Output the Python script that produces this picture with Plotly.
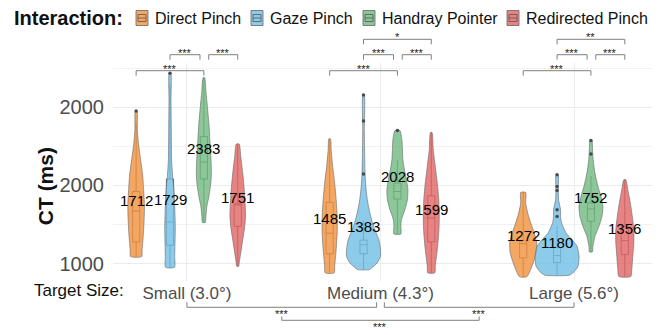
import plotly.graph_objects as go

# ---------------- data ----------------
INTERACTIONS = ["Direct Pinch", "Gaze Pinch", "Handray Pointer", "Redirected Pinch"]
SIZES = ["Small (3.0°)", "Medium (4.3°)", "Large (5.6°)"]
Y_TICKS = [1000, 2000, 3000]
Y_TICK_TEXT = ["1000", "2000", "2000"]
Y_MINOR = [1500, 2500, 3500]

# mean CT per size (Small, Medium, Large)
direct_means = [1712, 1485, 1272]
gaze_means = [1729, 1383, 1180]
handray_means = [2383, 2028, 1752]
redirected_means = [1751, 1599, 1356]

# box statistics per size
direct_box = dict(q1=[1277, 1125, 1073], median=[1673, 1389, 1255], q3=[1923, 1783, 1290],
                  lowerfence=[1089, 881, 830], upperfence=[2800, 2596, 1911])
gaze_box = dict(q1=[1234, 1125, 1013], median=[1532, 1240, 1102], q3=[2082, 1300, 1204],
                lowerfence=[953, 923, 851], upperfence=[3300, 1550, 1480])
handray_box = dict(q1=[2082, 1826, 1540], median=[2299, 1923, 1699], q3=[2626, 2031, 1775],
                   lowerfence=[1527, 1379, 1149], upperfence=[3379, 2330, 2120])
redirected_box = dict(q1=[1476, 1277, 1115], median=[1750, 1584, 1294], q3=[1766, 1868, 1472],
                      lowerfence=[966, 881, 834], upperfence=[2529, 2677, 2073])

# outliers: size index and CT
direct_out_size = [0]
direct_out_ct = [2954]
gaze_out_size = [0, 1, 1, 1, 2, 2, 2, 2, 2]
gaze_out_ct = [3435, 2145, 2826, 3158, 1604, 1690, 1936, 1987, 2137]
handray_out_size = [1, 2, 2]
handray_out_ct = [2702, 2401, 2575]
redirected_out_size = []
redirected_out_ct = []

# violin density profiles (CT levels, relative density) per size
direct_violin_ct = [
    [2954, 2711, 2520, 2328, 2137, 1945, 1753, 1562, 1370, 1179, 1089],
    [2596, 2456, 2243, 2031, 1817, 1604, 1392, 1179, 966, 881],
    [1911, 1775, 1647, 1520, 1392, 1264, 1137, 1009, 881, 830],
]
direct_violin_density = [
    [0.8, 1.2, 2.5, 4.5, 6.5, 7.5, 8.3, 8.0, 7.2, 6.0, 5.5],
    [0.8, 1.5, 3, 5, 6.5, 7.5, 7.5, 6.5, 5, 4.5],
    [2.5, 2.5, 4.5, 7.5, 11, 13.5, 13, 10, 6, 3.5],
]
gaze_violin_ct = [
    [3435, 3094, 2711, 2328, 2111, 1907, 1690, 1472, 1268, 1089, 953],
    [3158, 2711, 2158, 1987, 1817, 1647, 1476, 1306, 1179, 1093, 1009, 945, 923],
    [2137, 1936, 1817, 1690, 1604, 1520, 1392, 1306, 1221, 1093, 966, 881, 851],
]
gaze_violin_density = [
    [0.8, 1.0, 1.3, 1.6, 2.7, 4.2, 4.8, 5.3, 5.0, 4.7, 4.5],
    [0.7, 0.8, 1.5, 2.3, 3.8, 6.3, 10, 15.3, 17, 17, 13.7, 8.3, 6],
    [1, 1.2, 1.5, 3.5, 3.5, 4.5, 9, 15, 20, 22, 21, 16, 12],
]
handray_violin_ct = [
    [3379, 3222, 3009, 2801, 2583, 2370, 2158, 2034, 1859, 1732, 1604, 1527],
    [2702, 2583, 2456, 2328, 2200, 2073, 1945, 1817, 1690, 1562, 1476, 1379],
    [2575, 2498, 2328, 2158, 1987, 1859, 1732, 1604, 1476, 1349, 1221, 1149],
]
handray_violin_density = [
    [0.8, 2, 3.5, 5, 6, 7, 7.5, 7, 5, 3, 2, 1.5],
    [2.5, 4.5, 5, 5.5, 7, 9, 10.5, 10, 7.5, 4, 3.5, 3.5],
    [1, 1.5, 2.2, 4, 7, 10, 12, 11, 8, 4, 2, 1.5],
]
redirected_violin_ct = [
    [2529, 2370, 2158, 1945, 1732, 1604, 1476, 1306, 1137, 1009, 966],
    [2677, 2456, 2243, 2031, 1817, 1604, 1392, 1179, 966, 881],
    [2073, 1945, 1775, 1604, 1434, 1264, 1093, 923, 834],
]
redirected_violin_density = [
    [1.5, 3, 5, 6.5, 7.5, 7.8, 7, 5, 3, 1.5, 1],
    [0.8, 2, 4, 6, 7.5, 8, 7.5, 6, 4, 3.5],
    [1, 3, 5.5, 7.5, 9, 9, 8, 7, 6],
]

# pairwise significance within each size: (size, from, to, level, label)
PAIR_TESTS = [
    (0, 0, 2, 0, "***"), (0, 1, 2, 1, "***"), (0, 2, 3, 1, "***"),
    (1, 0, 2, 0, "***"), (1, 1, 2, 1, "***"), (1, 2, 3, 1, "***"), (1, 1, 3, 2, "*"),
    (2, 0, 2, 0, "***"), (2, 1, 2, 1, "***"), (2, 2, 3, 1, "***"), (2, 1, 3, 2, "**"),
]
# significance between sizes: (from, to, level, label)
SIZE_TESTS = [(0, 1, 0, "***"), (1, 2, 0, "***"), (0, 2, 1, "***")]

# ---------------- style ----------------
FILLS = ["rgba(240,145,60,0.8)", "rgba(112,190,229,0.8)",
         "rgba(111,185,129,0.8)", "rgba(226,100,100,0.8)"]
OUTLINE = "#666666"
BOXLINE = "#555555"
FONT = "Liberation Sans, Arial, sans-serif"
DODGE = [-0.2625, -0.0875, 0.0875, 0.2625]
DENS_TO_X = 1 / 193.5
W, H = 661, 335
ML, MR, MT, MB = 113, 9, 63, 54
PW, PH = W - ML - MR, H - MT - MB


def paper_x(px):
    return (px - ML) / PW


def paper_y(py):
    return (H - MB - py) / PH


means = [direct_means, gaze_means, handray_means, redirected_means]
boxes = [direct_box, gaze_box, handray_box, redirected_box]
out_sizes = [direct_out_size, gaze_out_size, handray_out_size, redirected_out_size]
out_cts = [direct_out_ct, gaze_out_ct, handray_out_ct, redirected_out_ct]
v_cts = [direct_violin_ct, gaze_violin_ct, handray_violin_ct, redirected_violin_ct]
v_dens = [direct_violin_density, gaze_violin_density, handray_violin_density, redirected_violin_density]

fig = go.Figure()

for i, name in enumerate(INTERACTIONS):
    for s in range(len(SIZES)):
        c = s + DODGE[i]
        ys = v_cts[i][s]
        ds = v_dens[i][s]
        xr = [c + d * DENS_TO_X for d in ds]
        xl = [c - d * DENS_TO_X for d in ds]
        fig.add_trace(go.Scatter(
            x=xr + xl[::-1] + [xr[0]], y=ys + ys[::-1] + [ys[0]],
            mode="lines", fill="toself", fillcolor=FILLS[i],
            line=dict(color=OUTLINE, width=0.6, shape="spline", smoothing=0.6),
            name=name, legendgroup=name, showlegend=False, hoverinfo="skip"))
    b = boxes[i]
    fig.add_trace(go.Box(
        x=[s + DODGE[i] for s in range(len(SIZES))],
        q1=b["q1"], median=b["median"], q3=b["q3"],
        lowerfence=b["lowerfence"], upperfence=b["upperfence"],
        width=0.037, whiskerwidth=0, fillcolor="rgba(0,0,0,0)",
        line=dict(color=BOXLINE, width=0.9), boxpoints=False,
        name=name, showlegend=False))
    if out_cts[i]:
        fig.add_trace(go.Scatter(
            x=[s + DODGE[i] for s in out_sizes[i]], y=out_cts[i], mode="markers",
            marker=dict(color="#4a4a4a", size=3.5), showlegend=False, hoverinfo="skip"))
    for s in range(len(SIZES)):
        fig.add_annotation(x=s + DODGE[i], y=means[i][s], xref="x", yref="y",
                           text=str(means[i][s]), showarrow=False, yshift=7,
                           font=dict(family=FONT, size=15, color="black"))

shapes = []
# pairwise brackets above the panel
LEVEL_PX = {0: 70.7, 1: 54.7, 2: 39.3}
for s, a, bb, lvl, lab in PAIR_TESTS:
    x0 = s + DODGE[a]
    x1 = s + DODGE[bb]
    if lvl == 1:
        if bb == 2:
            x1 -= 0.02
        if a == 2:
            x0 += 0.025
    yl = paper_y(LEVEL_PX[lvl])
    yt = paper_y(LEVEL_PX[lvl] + 5)
    shapes.append(dict(type="path", xref="x", yref="paper",
                       path=f"M {x0},{yt} L {x0},{yl} L {x1},{yl} L {x1},{yt}",
                       line=dict(color="#7f7f7f", width=1)))
    fig.add_annotation(x=(x0 + x1) / 2, y=paper_y(LEVEL_PX[lvl] - 2), xref="x", yref="paper",
                       text=lab, showarrow=False, yanchor="middle",
                       font=dict(family=FONT, size=11, color="#222222"))

# between-size brackets below the panel
mids = {}
for a, bb, lvl, lab in SIZE_TESTS:
    if lvl == 0:
        x0 = a + (0.02 if a == 1 else 0.0)
        x1 = bb - (0.02 if bb == 1 else 0.0)
        line_px, tip_px = 307.3, 302.3
        mids[(a, bb)] = (x0 + x1) / 2
        tx = (x0 + x1) / 2
    else:
        x0 = mids[(0, 1)]
        x1 = mids[(1, 2)]
        line_px, tip_px = 320.3, 316.5
        tx = (x0 + x1) / 2
    shapes.append(dict(type="path", xref="x", yref="paper",
                       path=f"M {x0},{paper_y(tip_px)} L {x0},{paper_y(line_px)} "
                            f"L {x1},{paper_y(line_px)} L {x1},{paper_y(tip_px)}",
                       line=dict(color="#7f7f7f", width=1)))
    fig.add_annotation(x=tx, y=paper_y(line_px + 7), xref="x", yref="paper",
                       text=lab, showarrow=False, yanchor="middle",
                       font=dict(family=FONT, size=11, color="#222222"))

# manual legend
fig.add_annotation(x=paper_x(12), y=paper_y(18), xref="paper", yref="paper",
                   text="<b>Interaction:</b>", showarrow=False, xanchor="left", yanchor="middle",
                   font=dict(family=FONT, size=20, color="#111111"))
KEY_X = [136, 251, 363, 507]
for i, name in enumerate(INTERACTIONS):
    kx0, kx1 = KEY_X[i], KEY_X[i] + 12
    ky0, ky1 = 10.5, 25.5
    shapes.append(dict(type="rect", xref="paper", yref="paper",
                       x0=paper_x(kx0), x1=paper_x(kx1), y0=paper_y(ky1), y1=paper_y(ky0),
                       fillcolor=FILLS[i], line=dict(color=OUTLINE, width=0.8)))
    shapes.append(dict(type="rect", xref="paper", yref="paper",
                       x0=paper_x(kx0 + 2), x1=paper_x(kx1 - 2), y0=paper_y(21.5), y1=paper_y(14.5),
                       fillcolor="rgba(0,0,0,0)", line=dict(color=BOXLINE, width=0.8)))
    shapes.append(dict(type="line", xref="paper", yref="paper",
                       x0=paper_x(kx0 + 2), x1=paper_x(kx1 - 2), y0=paper_y(18), y1=paper_y(18),
                       line=dict(color=BOXLINE, width=0.8)))
    fig.add_annotation(x=paper_x(kx1 + 5), y=paper_y(18), xref="paper", yref="paper",
                       text=name, showarrow=False, xanchor="left", yanchor="middle",
                       font=dict(family=FONT, size=16, color="#111111"))

# axis titles as text
fig.add_annotation(x=paper_x(32), y=paper_y(186.7), xref="paper", yref="paper",
                   text="<b>CT (ms)</b>", textangle=-90, showarrow=False,
                   font=dict(family=FONT, size=21, color="#111111"))
fig.add_annotation(x=paper_x(126), y=paper_y(290.5), xref="paper", yref="paper",
                   text="Target Size:", showarrow=False, xanchor="right", yanchor="middle",
                   font=dict(family=FONT, size=17, color="#111111"))

fig.update_layout(
    width=W, height=H, margin=dict(l=ML, r=MR, t=MT, b=MB),
    paper_bgcolor="white", plot_bgcolor="white", showlegend=False,
    shapes=shapes, font=dict(family=FONT),
    xaxis=dict(range=[-0.382, 2.403], tickmode="array", tickvals=[0, 1, 2], ticktext=SIZES,
               showgrid=True, gridcolor="#EBEBEB", gridwidth=1, zeroline=False,
               showline=False, ticks="", tickfont=dict(family=FONT, size=17, color="#4D4D4D")),
    yaxis=dict(range=[777, 3567], tickmode="array", tickvals=Y_TICKS, ticktext=Y_TICK_TEXT,
               showgrid=True, gridcolor="#EBEBEB", gridwidth=1, zeroline=False,
               showline=False, ticks="", ticklabelstandoff=8,
               tickfont=dict(family=FONT, size=20, color="#4D4D4D"),
               minor=dict(tickmode="array", tickvals=Y_MINOR, showgrid=True,
                          gridcolor="#F2F2F2", gridwidth=0.6)),
)

fig.write_html("out.html", config={"displayModeBar": False},
               post_script="document.body.style.margin='0';document.body.style.overflow='hidden';")
